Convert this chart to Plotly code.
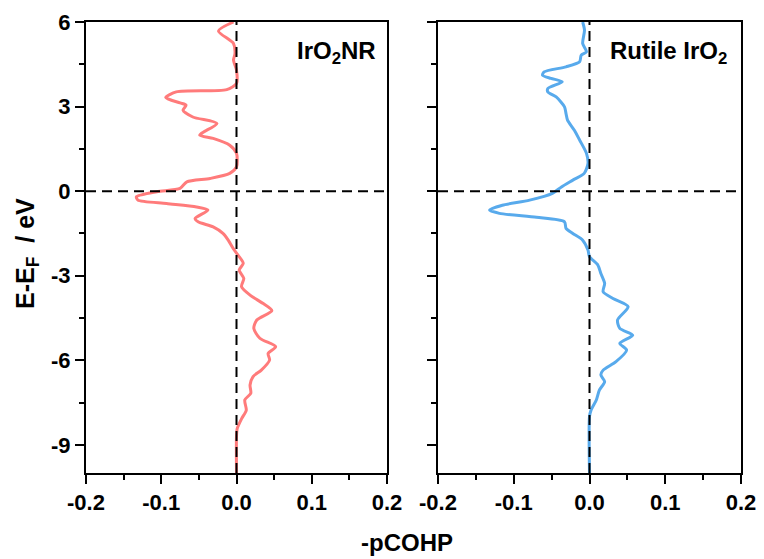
import plotly.graph_objects as go

# -pCOHP profiles (energy relative to E_F in eV, value)
nr_energy = [6.0, 5.68, 5.24, 4.88, 4.65, 4.29, 3.82, 3.6, 3.52, 3.32, 3.13, 3.05, 2.87,
             2.63, 2.40, 1.99, 1.87, 1.63, 1.34, 0.86, 0.63, 0.45, 0.33, 0.1, -0.02, -0.2,
             -0.32, -0.44, -0.56, -0.67, -0.97, -1.09, -1.27, -1.50, -1.74, -2.05, -2.27,
             -2.56, -2.80, -3.1, -3.39, -3.69, -3.98, -4.24, -4.57, -4.87, -5.22, -5.52,
             -5.76, -5.99, -6.35, -6.58, -6.88, -7.17, -7.41, -7.77, -8.06, -8.42, -8.7, -10.0]
nr_pcohp = [-0.004, -0.024, -0.004, -0.002, -0.004, 0.0, 0.0, -0.013, -0.08, -0.094, -0.075,
            -0.067, -0.071, -0.058, -0.026, -0.049, -0.031, -0.009, 0.0, 0.0, -0.009, -0.035,
            -0.066, -0.075, -0.106, -0.133, -0.131, -0.093, -0.053, -0.038, -0.055, -0.051,
            -0.031, -0.018, -0.011, -0.004, 0.002, 0.009, 0.0035, 0.0097, 0.0066, 0.018,
            0.035, 0.047, 0.027, 0.023, 0.031, 0.052, 0.042, 0.044, 0.033, 0.022, 0.018,
            0.019, 0.011, 0.013, 0.007, 0.001, 0.0, 0.0]

rutile_energy = [6.0, 5.71, 5.24, 4.94, 4.82, 4.59, 4.41, 4.23, 4.11, 4.0, 3.88, 3.64, 3.52,
                 3.34, 2.99, 2.75, 2.52, 2.16, 1.81, 1.34, 0.98, 0.63, 0.39, 0.15, -0.08,
                 -0.32, -0.50, -0.67, -0.79, -0.93, -1.09, -1.32, -1.5, -1.74, -2.09, -2.33,
                 -2.62, -2.92, -3.27, -3.57, -3.81, -4.10, -4.57, -4.87, -5.11, -5.40, -5.64,
                 -6.05, -6.35, -6.52, -6.76, -7.06, -7.41, -7.77, -8.0, -10.0]
rutile_pcohp = [-0.009, -0.0066, -0.009, -0.004, -0.011, -0.013, -0.031, -0.06, -0.062,
                -0.051, -0.036, -0.055, -0.055, -0.044, -0.033, -0.031, -0.029, -0.020,
                -0.013, -0.004, -0.002, -0.007, -0.022, -0.037, -0.049, -0.079, -0.115,
                -0.132, -0.119, -0.07, -0.033, -0.031, -0.022, -0.009, -0.002, 0.0, 0.011,
                0.015, 0.020, 0.018, 0.031, 0.051, 0.037, 0.040, 0.057, 0.040, 0.049, 0.035,
                0.018, 0.015, 0.020, 0.013, 0.009, 0.002, 0.0, 0.0]

x_ticks = [-0.2, -0.1, 0.0, 0.1, 0.2]
x_ticktext = ["-0.2", "-0.1", "0.0", "0.1", "0.2"]
y_ticks = [-9, -6, -3, 0, 3, 6]
y_ticktext = ["-9", "-6", "-3", "0", "3", "6"]
panel_labels = ["IrO<sub>2</sub>NR", "Rutile IrO<sub>2</sub>"]

FONT = "Liberation Sans"
RED = "#FF7B7B"
BLUE = "#58AAEC"

fig = go.Figure()
fig.add_trace(go.Scatter(x=nr_pcohp, y=nr_energy, mode="lines", xaxis="x", yaxis="y",
                         line=dict(color=RED, width=3, shape="spline", smoothing=0.7),
                         showlegend=False))
fig.add_trace(go.Scatter(x=rutile_pcohp, y=rutile_energy, mode="lines", xaxis="x2", yaxis="y2",
                         line=dict(color=BLUE, width=3, shape="spline", smoothing=0.7),
                         showlegend=False))

tickfont = dict(family=FONT, size=22, color="black", weight="bold")


def xaxis(domain, anchor):
    return dict(domain=domain, anchor=anchor, range=[-0.2, 0.2], tickvals=x_ticks,
                ticktext=x_ticktext, ticks="outside", ticklen=9, tickwidth=2, tickcolor="black",
                minor=dict(ticks="outside", ticklen=5, tickwidth=2, tickcolor="black", dtick=0.05),
                showline=True, linewidth=2, linecolor="black", mirror=True, automargin=False,
                showgrid=False, zeroline=False, tickfont=tickfont)


def yaxis(domain, anchor, labels):
    return dict(domain=domain, anchor=anchor, range=[-10, 6], tickvals=y_ticks,
                ticktext=y_ticktext, ticks="outside", ticklen=9, tickwidth=2, tickcolor="black",
                minor=dict(ticks="outside", ticklen=5, tickwidth=2, tickcolor="black", dtick=1.5),
                showline=True, linewidth=2, linecolor="black", mirror=True, automargin=False,
                showgrid=False, zeroline=False, showticklabels=labels, tickfont=tickfont)


ydom = [1 - 473 / 559, 1 - 22 / 559]
fig.update_layout(
    width=764, height=559, margin=dict(l=0, r=0, t=0, b=0, autoexpand=False),
    paper_bgcolor="white", plot_bgcolor="white",
    xaxis=xaxis([86 / 764, 387 / 764], "y"),
    yaxis=yaxis(ydom, "x", True),
    xaxis2=xaxis([438 / 764, 741 / 764], "y2"),
    yaxis2=yaxis(ydom, "x2", False),
)

# Fermi level and zero-COHP guides
dash = dict(color="black", width=2, dash="10px,6px")
for xr, yr in (("x", "y"), ("x2", "y2")):
    fig.add_shape(type="line", xref=xr, yref=yr, x0=-0.2, x1=0.2, y0=0, y1=0,
                  line=dash, layer="above")
    fig.add_shape(type="line", xref=xr, yref=yr, x0=0, x1=0, y0=-10, y1=6,
                  line=dash, layer="above")

labelfont = dict(family=FONT, size=24, color="black", weight="bold")
for text, xpix in ((panel_labels[0], 378), (panel_labels[1], 729)):
    fig.add_annotation(xref="paper", yref="paper", x=xpix / 764, y=1 - 53 / 559,
                       xanchor="right", yanchor="middle", text=text, showarrow=False,
                       font=labelfont)

titlefont = dict(family=FONT, size=24, color="black", weight="bold")
fig.add_annotation(xref="paper", yref="paper", x=407 / 764, y=1 - 542 / 559,
                   xanchor="center", yanchor="middle", text="-pCOHP", showarrow=False,
                   font=titlefont)
fig.add_annotation(xref="paper", yref="paper", x=27 / 764, y=1 - 254 / 559,
                   xanchor="center", yanchor="middle",
                   text="E-E<sub>F</sub>\u00a0\u00a0/ eV",
                   textangle=-90, showarrow=False, font=dict(family=FONT, size=25,
                                                             color="black", weight="bold"))

fig.write_html("out.html")
